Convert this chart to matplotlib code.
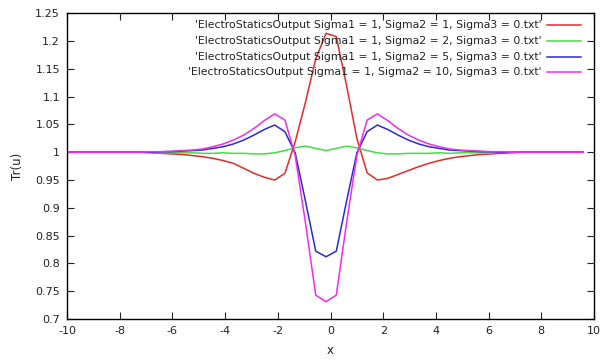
import matplotlib
matplotlib.use('Agg')
import matplotlib.pyplot as plt
from matplotlib.lines import Line2D

plt.rcParams['font.family'] = ['DejaVu Sans']
plt.rcParams['axes.unicode_minus'] = False

X = [-9.92, -9.53, -9.14, -8.75, -8.36, -7.97, -7.58, -7.19, -6.80, -6.41,
     -6.02, -5.63, -5.24, -4.85, -4.46, -4.07, -3.68, -3.29, -2.90, -2.51,
     -2.12, -1.73, -1.34, -0.95, -0.56, -0.17, 0.22, 0.61, 1.00, 1.39,
     1.78, 2.17, 2.56, 2.95, 3.34, 3.73, 4.12, 4.51, 4.90, 5.29,
     5.68, 6.07, 6.46, 6.85, 7.24, 7.63, 8.02, 8.41, 8.80, 9.19, 9.58]

Y_sigma2_1 = [1.0, 1.0, 1.0, 1.0, 1.0, 1.0, 1.0, 1.0, 0.999, 0.998,
              0.997, 0.996, 0.994, 0.992, 0.989, 0.985, 0.980, 0.971, 0.962, 0.955,
              0.950, 0.962, 1.019, 1.090, 1.168, 1.214, 1.208, 1.120, 1.025, 0.963,
              0.950, 0.953, 0.960, 0.967, 0.974, 0.980, 0.985, 0.989, 0.992, 0.994,
              0.996, 0.997, 0.998, 0.999, 1.0, 1.0, 1.0, 1.0, 1.0, 1.0, 1.0]

Y_sigma2_2 = [1.0, 1.0, 1.0, 1.0, 1.0, 1.0, 1.0, 1.0, 1.0, 0.999,
              0.999, 0.999, 0.999, 0.998, 0.998, 0.999, 0.998, 0.998, 0.997, 0.997,
              0.999, 1.003, 1.008, 1.011, 1.007, 1.003, 1.007, 1.011, 1.008, 1.003,
              0.999, 0.997, 0.997, 0.998, 0.998, 0.998, 0.999, 0.998, 0.999, 0.999,
              0.999, 0.999, 1.0, 1.0, 1.0, 1.0, 1.0, 1.0, 1.0, 1.0, 1.0]

Y_sigma2_5 = [1.0, 1.0, 1.0, 1.0, 1.0, 1.0, 1.0, 1.0, 1.0, 1.001,
              1.001, 1.002, 1.003, 1.004, 1.007, 1.010, 1.015, 1.022, 1.031, 1.041,
              1.049, 1.037, 0.999, 0.912, 0.822, 0.812, 0.822, 0.912, 0.999, 1.037,
              1.049, 1.041, 1.031, 1.022, 1.015, 1.010, 1.007, 1.004, 1.003, 1.002,
              1.001, 1.001, 1.0, 1.0, 1.0, 1.0, 1.0, 1.0, 1.0, 1.0, 1.0]

Y_sigma2_10 = [1.0, 1.0, 1.0, 1.0, 1.0, 1.0, 1.0, 1.0, 1.001, 1.001,
               1.002, 1.003, 1.004, 1.006, 1.010, 1.015, 1.022, 1.031, 1.043, 1.057,
               1.069, 1.058, 0.994, 0.873, 0.743, 0.731, 0.743, 0.873, 0.994, 1.058,
               1.069, 1.057, 1.043, 1.031, 1.022, 1.015, 1.010, 1.006, 1.004, 1.003,
               1.002, 1.001, 1.001, 1.0, 1.0, 1.0, 1.0, 1.0, 1.0, 1.0, 1.0]

labels = ["'ElectroStaticsOutput Sigma1 = 1, Sigma2 = 1, Sigma3 = 0.txt'",
          "'ElectroStaticsOutput Sigma1 = 1, Sigma2 = 2, Sigma3 = 0.txt'",
          "'ElectroStaticsOutput Sigma1 = 1, Sigma2 = 5, Sigma3 = 0.txt'",
          "'ElectroStaticsOutput Sigma1 = 1, Sigma2 = 10, Sigma3 = 0.txt'"]
cores = ['#e62a2a', '#3fe03f', '#2a2ad8', '#f02cf0']
series = [Y_sigma2_1, Y_sigma2_2, Y_sigma2_5, Y_sigma2_10]

fig = plt.figure(figsize=(6.02, 3.64), dpi=100)
ax = fig.add_axes([67 / 602, 1 - 319 / 364, (594 - 67) / 602, (319 - 13.3) / 364])

for Y, c in zip(series, cores):
    ax.plot(X, Y, c=c, lw=1.1)

ax.set_xlim(-10, 10)
ax.set_ylim(0.7, 1.25)
ax.set_xticks(range(-10, 11, 2))
ax.set_yticks([0.7, 0.75, 0.8, 0.85, 0.9, 0.95, 1.0, 1.05, 1.1, 1.15, 1.2, 1.25])
ax.set_yticklabels(['0.7', '0.75', '0.8', '0.85', '0.9', '0.95', '1', '1.05',
                    '1.1', '1.15', '1.2', '1.25'])
ax.tick_params(direction='in', length=5, width=0.8, top=True, right=True,
               labelsize=8, colors='#222222', pad=5)
for s in ax.spines.values():
    s.set_linewidth(1.0)

ax.set_xlabel('x', fontsize=8.5, labelpad=6, color='#222222')
ax.set_ylabel('Tr(u)', fontsize=8.5, labelpad=8, color='#222222')

# legend estilo gnuplot: texto alinhado a direita, amostra depois
linhas_y = [0.962, 0.909, 0.858, 0.809]
for lab, c, yy in zip(labels, cores, linhas_y):
    ax.text(0.901, yy, lab, transform=ax.transAxes, ha='right', va='center',
            fontsize=7.8, color='#222222')
    ax.add_line(Line2D([0.910, 0.976], [yy, yy], transform=ax.transAxes,
                       color=c, lw=1.1))

fig.savefig('out.png', dpi=100)
